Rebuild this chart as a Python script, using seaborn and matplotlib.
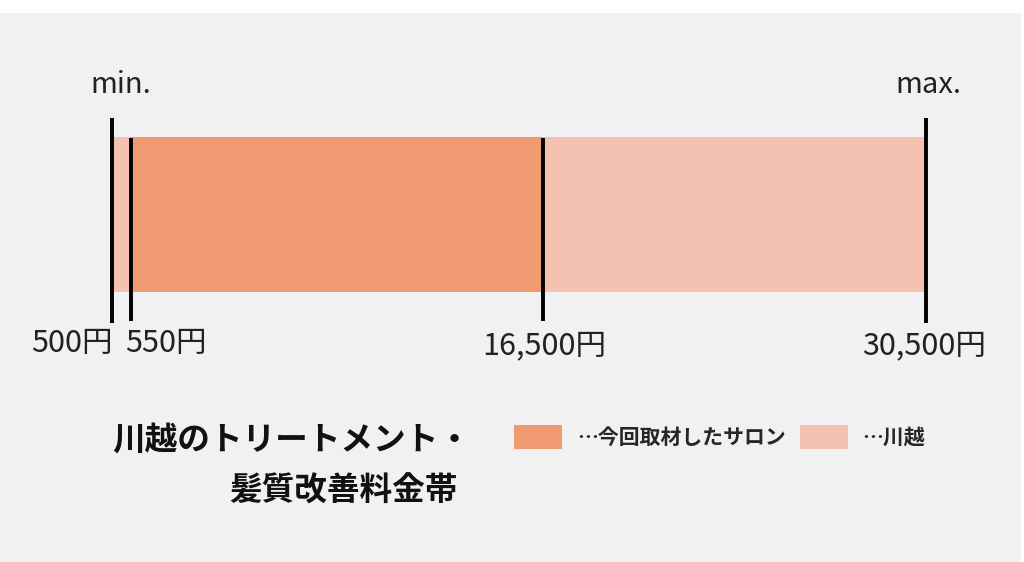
import matplotlib
matplotlib.use("Agg")
import matplotlib.pyplot as plt
from matplotlib.patches import Patch, Rectangle
import numpy as np
import seaborn as sns

# price range data (yen)
price_min = 500
price_max = 30500
salon_low = 550
salon_high = 16500
tick_prices = [500, 550, 16500, 30500]
tick_labels = ["500円", "550円", "16,500円", "30,500円"]
legend_labels = ["…今回取材したサロン", "…川越"]
title_lines = ["川越のトリートメント・", "髪質改善料金帯"]

DARK = "#EF9A70"
LIGHT = "#F5C2B1"
BG = "#F1F1F1"

sns.set_theme(style="white")
plt.rcParams["font.family"] = ["Noto Sans CJK JP", "DejaVu Sans"]

W, H = 1024, 562
fig = plt.figure(figsize=(W / 100, H / 100), dpi=100)
fig.patch.set_facecolor("white")
fig.patches.append(Rectangle((0, 0), 1021 / W, 1 - 13 / H, transform=fig.transFigure,
                             facecolor=BG, edgecolor="none", zorder=-10))

# axes in pixel layout; x through a piecewise scale like the infographic
left, right, top, bottom = 112, 926, 60, 380
ax = fig.add_axes([left / W, 1 - bottom / H, (right - left) / W, (bottom - top) / H])
ax.set_facecolor("none")

knots_yen = np.array(tick_prices, dtype=float)
knots_pos = np.array([0, 19, 431, 814], dtype=float)


def fwd(x):
    return np.interp(x, knots_yen, knots_pos)


def inv(p):
    return np.interp(p, knots_pos, knots_yen)


ax.set_xscale("function", functions=(fwd, inv))
ax.set_xlim(price_min, price_max)
ax.set_ylim(bottom, top)
ax.set_axis_off()

bar_y, bar_h = 214.5, 155
ax.barh(bar_y, price_max - price_min, left=price_min, height=bar_h, color=LIGHT,
        edgecolor="none", linewidth=0, zorder=1)
ax.barh(bar_y, salon_high - salon_low, left=salon_low, height=bar_h, color=DARK,
        edgecolor="none", linewidth=0, zorder=2)

# marker lines: outer ones long, inner ones short
ax.vlines([price_min, price_max], 118, 323, color="black", lw=2.8, zorder=3, clip_on=False)
ax.vlines([salon_low, salon_high], 138, 321, color="black", lw=2.8, zorder=3, clip_on=False)

ax.annotate("min.", (price_min, 85), xytext=(9, 0), textcoords="offset pixels",
            ha="center", va="center", fontsize=21, color="#222222", annotation_clip=False)
ax.annotate("max.", (price_max, 85), xytext=(2, 0), textcoords="offset pixels",
            ha="center", va="center", fontsize=21, color="#222222", annotation_clip=False)

lab_kw = dict(va="center", fontsize=22, color="#222222", annotation_clip=False,
              textcoords="offset pixels")
ax.annotate(tick_labels[0], (tick_prices[0], 343), xytext=(1, 0), ha="right", **lab_kw)
ax.annotate(tick_labels[1], (tick_prices[1], 343), xytext=(-6, 0), ha="left", **lab_kw)
ax.annotate(tick_labels[2], (tick_prices[2], 346), xytext=(1, 0), ha="center", **lab_kw)
ax.annotate(tick_labels[3], (tick_prices[3], 346), xytext=(-2, 0), ha="center", **lab_kw)

# title block
fig.text(471 / W, 1 - 440 / H, title_lines[0], ha="right", va="center",
         fontsize=23.5, fontweight="bold", color="#111111")
fig.text(458 / W, 1 - 491 / H, title_lines[1], ha="right", va="center",
         fontsize=23.5, fontweight="bold", color="#111111")

# legend
fs = 15
px = fs * 100 / 72
handles = [Patch(facecolor=DARK, edgecolor="none"), Patch(facecolor=LIGHT, edgecolor="none")]
fig.legend(handles, legend_labels, loc="center left", bbox_to_anchor=(514 / W, 1 - 437 / H),
           ncol=2, frameon=False, borderpad=0, borderaxespad=0,
           handlelength=48 / px, handleheight=29 / px, handletextpad=15 / px,
           columnspacing=14 / px, prop={"size": fs, "weight": "bold"})

fig.savefig("out.png", dpi=100, facecolor=fig.get_facecolor())
